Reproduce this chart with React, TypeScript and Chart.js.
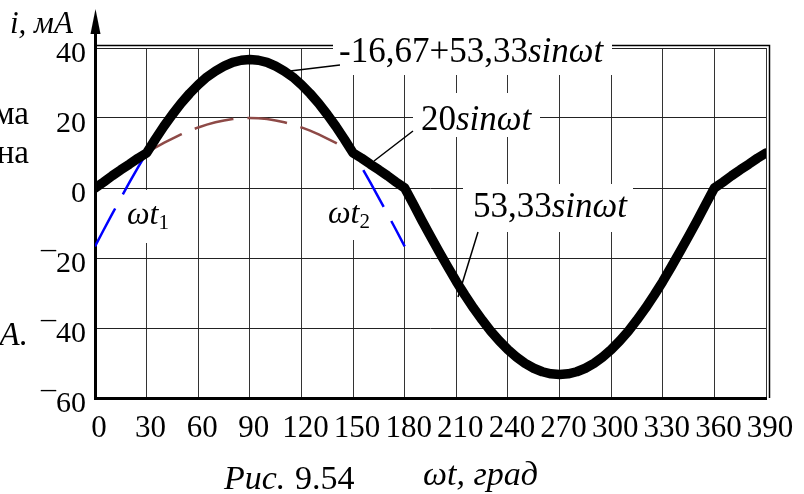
import React, { useEffect, useRef } from 'react';
import { Chart, registerables } from 'chart.js';

Chart.register(...registerables);

// ---- data (degrees, mA) ----
const angleDeg = [
  0, 5, 10, 15, 20, 25, 30, 35, 40, 45, 50, 55, 60, 65, 70, 75, 80, 85, 90,
  95, 100, 105, 110, 115, 120, 125, 130, 135, 140, 145, 150, 155, 160, 165, 170, 175, 180,
  185, 190, 195, 200, 205, 210, 215, 220, 225, 230, 235, 240, 245, 250, 255, 260, 265, 270,
  275, 280, 285, 290, 295, 300, 305, 310, 315, 320, 325, 330, 335, 340, 345, 350, 355, 360,
  365, 370, 375, 380, 385, 390,
];
const currentTotal = [
  0, 1.7, 3.5, 5.2, 6.8, 8.5, 10.0, 13.9, 17.6, 21.0, 24.2, 27.0, 29.5, 31.7, 33.4, 34.8, 35.9, 36.5, 36.7,
  36.5, 35.9, 34.8, 33.4, 31.7, 29.5, 27.0, 24.2, 21.0, 17.6, 13.9, 10.0, 8.5, 6.8, 5.2, 3.5, 1.7, 0,
  -4.6, -9.3, -13.8, -18.2, -22.5, -26.7, -30.6, -34.3, -37.7, -40.9, -43.7, -46.2, -48.3, -50.1, -51.5, -52.5, -53.1, -53.3,
  -53.1, -52.5, -51.5, -50.1, -48.3, -46.2, -43.7, -40.9, -37.7, -34.3, -30.6, -26.7, -22.5, -18.2, -13.8, -9.3, -4.6, 0,
  1.7, 3.5, 5.2, 6.8, 8.5, 10.0,
];
const arcAngles = [30, 35, 40, 45, 50, 55, 60, 65, 70, 75, 80, 85, 90, 95, 100, 105, 110, 115, 120, 125, 130, 135, 140, 145, 150];
const arc20Values = [10.0, 11.5, 12.9, 14.1, 15.3, 16.4, 17.3, 18.1, 18.8, 19.3, 19.7, 19.9, 20.0, 19.9, 19.7, 19.3, 18.8, 18.1, 17.3, 16.4, 15.3, 14.1, 12.9, 11.5, 10.0];
const tailLeftAngles = [0, 5, 10, 15, 20, 25, 30];
const tailLeftValues = [-16.7, -12.0, -7.4, -2.9, 1.6, 5.9, 10.0];
const tailRightAngles = [150, 155, 160, 165, 170, 175, 180];
const tailRightValues = [10.0, 5.9, 1.6, -2.9, -7.4, -12.0, -16.7];

const xTickValues = [0, 30, 60, 90, 120, 150, 180, 210, 240, 270, 300, 330, 360, 390];
const yTickValues = [-60, -40, -20, 0, 20, 40];
const yTickLabels = ['\u00AF60', '\u00AF40', '\u00AF20', '0', '20', '40'];

const SERIF = "'Liberation Serif', 'Times New Roman', serif";

type Run = { t: string; f: string; dy?: number };
function drawRuns(ctx: CanvasRenderingContext2D, x: number, y: number, runs: Run[]) {
  let cx = x;
  for (const r of runs) {
    ctx.font = r.f;
    ctx.fillText(r.t, cx, y + (r.dy || 0));
    cx += ctx.measureText(r.t).width;
  }
}

const framePlugin = {
  id: 'frame',
  beforeDatasetsDraw(chart: any) {
    const ctx: CanvasRenderingContext2D = chart.ctx;
    const a = chart.chartArea;
    ctx.save();
    ctx.strokeStyle = '#000';
    ctx.fillStyle = '#000';
    // outer top & right double lines
    ctx.lineWidth = 1.5;
    ctx.beginPath();
    ctx.moveTo(a.left, a.top - 2.5);
    ctx.lineTo(a.right + 3.5, a.top - 2.5);
    ctx.lineTo(a.right + 3.5, a.bottom);
    ctx.stroke();
    // left axis (thick) with arrow, bottom axis
    ctx.lineWidth = 3;
    ctx.beginPath();
    ctx.moveTo(a.left + 0.5, 32);
    ctx.lineTo(a.left + 0.5, a.bottom + 2);
    ctx.stroke();
    ctx.beginPath();
    ctx.moveTo(a.left - 1, a.bottom + 0.5);
    ctx.lineTo(a.right + 1, a.bottom + 0.5);
    ctx.stroke();
    ctx.beginPath();
    ctx.moveTo(a.left + 0.5, 9);
    ctx.lineTo(a.left - 4.5, 34);
    ctx.lineTo(a.left + 5.5, 34);
    ctx.closePath();
    ctx.fill();
    // white label boxes
    ctx.fillStyle = '#fff';
    ctx.fillRect(333, 38, 279, 37);
    ctx.fillRect(413, 93, 127, 44);
    ctx.fillRect(463, 184, 170, 48);
    ctx.fillRect(120, 190, 52, 53);
    ctx.fillRect(322, 190, 53, 50);
    ctx.restore();
  },
  afterDatasetsDraw(chart: any) {
    const ctx: CanvasRenderingContext2D = chart.ctx;
    ctx.save();
    ctx.fillStyle = '#000';
    ctx.strokeStyle = '#000';
    ctx.textBaseline = 'alphabetic';
    ctx.textAlign = 'left';
    const reg = (s: number) => `${s}px ${SERIF}`;
    const it = (s: number) => `italic ${s}px ${SERIF}`;
    // leader lines
    ctx.lineWidth = 1.5;
    ctx.beginPath();
    ctx.moveTo(290, 71); ctx.lineTo(340, 65);
    ctx.moveTo(413, 131); ctx.lineTo(374, 161);
    ctx.moveTo(478, 232); ctx.lineTo(458, 297);
    ctx.stroke();
    // curve labels
    drawRuns(ctx, 339, 62, [{ t: '-16,67+53,33', f: reg(35) }, { t: 'sin\u03C9t', f: it(35) }]);
    drawRuns(ctx, 421, 130, [{ t: '20', f: reg(35) }, { t: 'sin\u03C9t', f: it(35) }]);
    drawRuns(ctx, 473, 217, [{ t: '53,33', f: reg(35) }, { t: 'sin\u03C9t', f: it(35) }]);
    drawRuns(ctx, 127, 224, [{ t: '\u03C9t', f: it(32) }, { t: '1', f: reg(21), dy: 5 }]);
    drawRuns(ctx, 328, 223, [{ t: '\u03C9t', f: it(32) }, { t: '2', f: reg(21), dy: 5 }]);
    // axis titles
    drawRuns(ctx, 10, 33, [{ t: 'i, \u043C\u0410', f: it(31) }]);
    drawRuns(ctx, 224, 489, [{ t: '\u0420\u0438\u0441.', f: it(34) }]);
    drawRuns(ctx, 295, 489, [{ t: '9.54', f: reg(34) }]);
    drawRuns(ctx, 423, 485, [{ t: '\u03C9t, \u0433\u0440\u0430\u0434', f: it(34) }]);
    // fragments of the page text at the left edge
    ctx.textAlign = 'right';
    ctx.font = reg(33);
    ctx.fillText('\u043C\u0430', 29, 124);
    ctx.fillText('\u043D\u0430', 29, 163);
    ctx.font = it(33);
    ctx.fillText('\u0410.', 28, 345);
    ctx.restore();
  },
};

const toXY = (xs: number[], ys: number[]) => xs.map((x, i) => ({ x, y: ys[i] }));

export default function App() {
  const ref = useRef<HTMLCanvasElement | null>(null);
  useEffect(() => {
    if (!ref.current) return;
    const chart = new Chart(ref.current, {
      type: 'line',
      data: {
        datasets: [
          {
            data: toXY(angleDeg, currentTotal),
            borderColor: '#000',
            borderWidth: 9.5,
            borderCapStyle: 'round',
            borderJoinStyle: 'round',
            pointRadius: 0,
            tension: 0,
            order: 0,
          },
          {
            data: toXY(arcAngles, arc20Values),
            borderColor: '#8E4A47',
            borderWidth: 2.5,
            borderDash: [40, 14],
            pointRadius: 0,
            tension: 0,
            order: 1,
          },
          {
            data: toXY(tailLeftAngles, tailLeftValues),
            borderColor: '#0000FF',
            borderWidth: 2.5,
            borderDash: [43, 16],
            pointRadius: 0,
            tension: 0,
            order: 2,
          },
          {
            data: toXY(tailRightAngles, tailRightValues),
            borderColor: '#0000FF',
            borderWidth: 2.5,
            borderDash: [42, 16],
            borderDashOffset: 38,
            pointRadius: 0,
            tension: 0,
            order: 2,
          },
        ],
      } as any,
      options: {
        animation: false,
        responsive: false,
        events: [],
        layout: { padding: { left: 0, top: 48, right: 38, bottom: 0 } },
        plugins: { legend: { display: false }, tooltip: { enabled: false }, title: { display: false } },
        scales: {
          x: {
            type: 'linear',
            min: 0,
            max: 390,
            afterFit: (s: any) => { s.height = 96; },
            afterBuildTicks: (s: any) => { s.ticks = xTickValues.map((v) => ({ value: v })); },
            grid: { color: '#333', lineWidth: 1, drawTicks: false },
            border: { display: false },
            ticks: {
              color: '#000',
              font: { family: SERIF, size: 31 },
              padding: 12,
              labelOffset: 4,
              maxRotation: 0,
              autoSkip: false,
              callback: (v: any) => String(v),
            },
          },
          y: {
            type: 'linear',
            min: -60,
            max: 40,
            afterFit: (s: any) => { s.width = 95; },
            afterBuildTicks: (s: any) => { s.ticks = yTickValues.map((v) => ({ value: v })); },
            grid: { color: '#222', lineWidth: 1, drawTicks: false },
            border: { display: false },
            ticks: {
              color: '#000',
              font: { family: SERIF, size: 30 },
              padding: 9,
              labelOffset: 6,
              autoSkip: false,
              callback: (v: any) => yTickLabels[yTickValues.indexOf(v)] ?? '',
            },
          },
        },
      } as any,
      plugins: [framePlugin],
    });
    return () => chart.destroy();
  }, []);
  return (
    <div style={{ position: 'fixed', left: 0, top: 0, width: 804, height: 494, background: '#fff' }}>
      <canvas ref={ref} width={804} height={494} style={{ display: 'block' }} />
    </div>
  );
}
